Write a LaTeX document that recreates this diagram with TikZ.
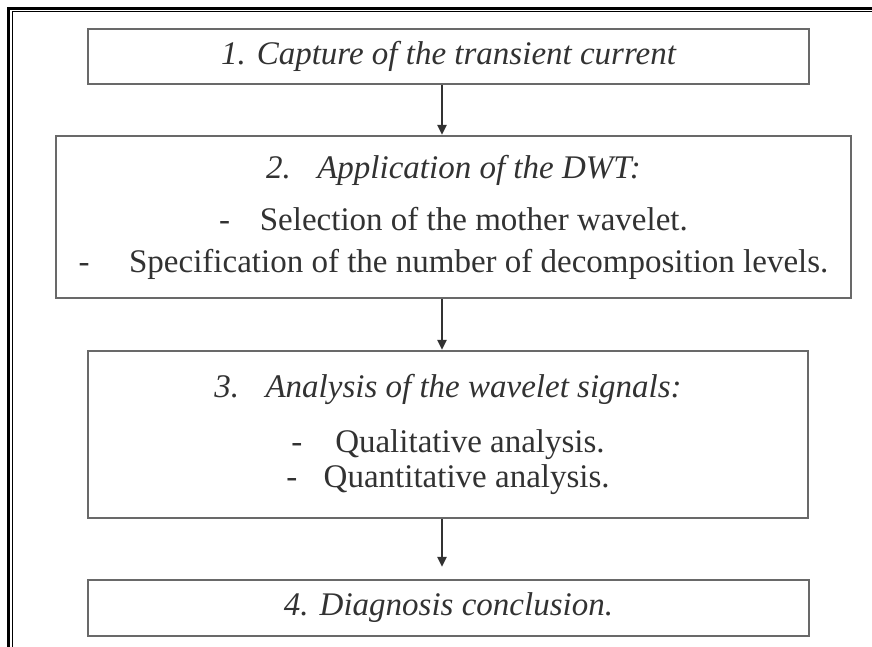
\documentclass[tikz,border=0pt]{standalone}
\usepackage{fontspec}
\setmainfont{Liberation Serif}
\usetikzlibrary{arrows.meta}
\definecolor{boxgray}{RGB}{105,105,105}
\definecolor{textgray}{RGB}{50,50,50}
\begin{document}
\begin{tikzpicture}[x=1pt, y=-1pt, every node/.style={align=center, font=\fontsize{33}{40}\selectfont, text=textgray}, >={Triangle[length=10pt,width=9pt]}]
    % styles
    \tikzstyle{stepbox} = [rectangle, draw=boxgray, line width=2.2pt, inner sep=0pt]
    \tikzstyle{arrow} = [draw=textgray, line width=2.2pt, ->]

    \useasboundingbox (0,0) rectangle (872,647);

    % outer double frame
    \draw[line width=3pt] (8.5,647) -- (8.5,8.5) -- (872,8.5);
    \draw[line width=1pt] (12,647) -- (12,12) -- (872,12);

    % steps
    \node[stepbox, minimum width=721, minimum height=55] (capture) at (448.5,56.5)
        {\itshape 1. Capture of the transient current};
    \node[stepbox, minimum width=795, minimum height=162] (dwt) at (453.5,217)
        {\itshape 2.\hspace{0.8em}Application of the DWT:\\[12pt]
         -\hspace{0.9em}Selection of the mother wavelet.\\[2pt]
         -\hspace{1.2em}Specification of the number of decomposition levels.};
    \node[stepbox, minimum width=720, minimum height=167] (analysis) at (448,434.5)
        {\itshape 3.\hspace{0.8em}Analysis of the wavelet signals:\\[15pt]
         -\hspace{1em}Qualitative analysis.\\[-5pt]
         -\hspace{0.8em}Quantitative analysis.};
    \node[stepbox, minimum width=721, minimum height=56] (diagnosis) at (448.5,608)
        {\itshape 4. Diagnosis conclusion.};

    % arrows
    \coordinate (ax) at (442,0);
    \draw[arrow] (capture.south -| ax) -- (dwt.north -| ax);
    \draw[arrow] (dwt.south -| ax) -- (analysis.north -| ax);
    \draw[arrow, shorten >=12pt] (analysis.south -| ax) -- (diagnosis.north -| ax);
\end{tikzpicture}
\end{document}
